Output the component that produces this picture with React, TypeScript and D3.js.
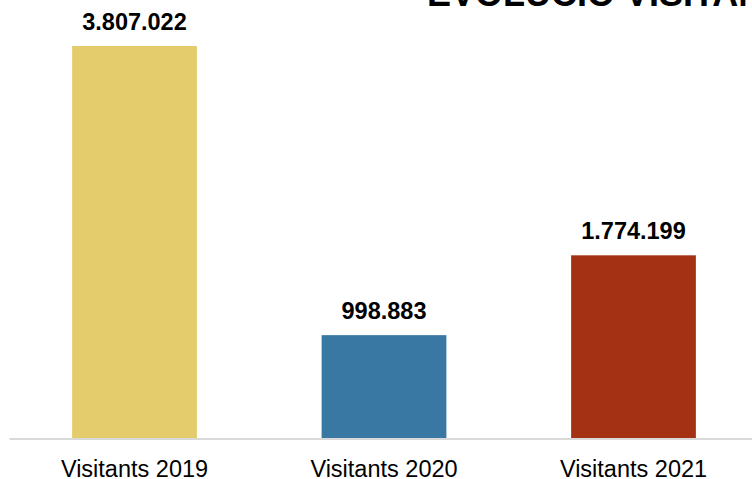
import React from "react";
import * as d3 from "d3";

const categories: string[] = ["Visitants 2019", "Visitants 2020", "Visitants 2021"];
const values: number[] = [3807022, 998883, 1774199];
const valueLabels: string[] = ["3.807.022", "998.883", "1.774.199"];
const barColors: string[] = ["#E4CB6C", "#3978A2", "#A53115"];
const title = "EVOLUCIÓ VISITANTS";

const W = 752;
const H = 479;

export default function App() {
  const x = d3
    .scaleBand<string>()
    .domain(categories)
    .range([9.75, 758.25])
    .paddingInner(0.5)
    .paddingOuter(0.25);
  const baseY = 438;
  const y = d3.scaleLinear().domain([0, values[0]]).range([baseY, 46]);
  const font = "'Liberation Sans', Arial, sans-serif";

  return (
    <svg
      width={W}
      height={H}
      style={{ position: "fixed", left: 0, top: 0, background: "#fff" }}
      fontFamily={font}
    >
      <rect x={0} y={0} width={W} height={H} fill="#fff" />
      <text x={427} y={6} fontSize={36} fontWeight="bold" fill="#000">
        {title}
      </text>
      {categories.map((c, i) => (
        <g key={c}>
          <rect
            x={x(c)!}
            y={y(values[i])}
            width={x.bandwidth()}
            height={baseY - y(values[i])}
            fill={barColors[i]}
          />
          <text
            x={x(c)! + x.bandwidth() / 2}
            y={y(values[i]) - 16.5}
            textAnchor="middle"
            fontSize={23.5}
            fontWeight="bold"
            fill="#000"
          >
            {valueLabels[i]}
          </text>
          <text
            x={x(c)! + x.bandwidth() / 2}
            y={476.5}
            textAnchor="middle"
            fontSize={23.5}
            fill="#000"
          >
            {c}
          </text>
        </g>
      ))}
      <line x1={9.5} x2={W} y1={439} y2={439} stroke="#d9d9d9" strokeWidth={2} />
    </svg>
  );
}
